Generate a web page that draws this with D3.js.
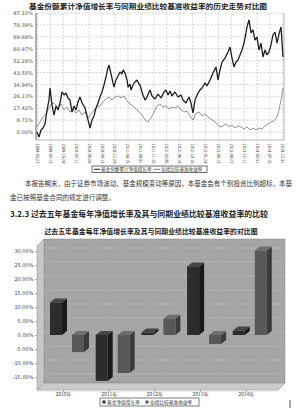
<!DOCTYPE html>
<html>
<head>
<meta charset="utf-8">
<script src="https://cdn.jsdelivr.net/npm/d3@7"></script>
<style>
body { margin: 0; background: #fff; }
svg { display: block; }
text { font-family: "Noto Sans CJK SC", "DejaVu Sans", sans-serif; }
</style>
</head>
<body>
<div id="canvas"></div>
<script>
// ---- data: line chart (weeks since start, cumulative %) ----
const navWeeks = [0,2,4,6,8,10,12,13,15,17,19,21,23,25,27,29,31,33,35,37,39,41,43,45,48,50,52,53,55,57,59,61,63,65,67,69,71,72,74,76,77,79,81,83,85,86,88,90,91,93,94,96,98,100,102,103,105,106,108,110,112,113,115,118,121,124,127,129,131,133,135,138,141,144,146,149,152,154,156,158,161,163,165,168,170,173,176,179,181,183,185,188,191,193,195,197,199,201,203,205,207,209,210,212,214,216,218,220,222,224,226,228,230,232,234,236,238,240,242,244,246];
const navValues = [0,-3.7,1.5,2.9,5.9,16.1,23.4,32.2,19.8,12.4,19.0,16.1,21.2,29.3,27.1,28.5,24.9,23.4,14.6,19.0,16.1,22.0,25.6,21.2,17.6,11.7,5.9,2.9,8.8,11.7,17.6,21.2,25.6,29.3,34.4,40.3,46.9,49.0,42.5,35.9,32.9,38.1,41.0,43.9,42.5,45.4,43.2,38.1,32.9,35.1,30.7,34.4,36.6,38.1,35.1,34.4,29.3,27.1,23.4,25.6,29.3,30.7,26.4,24.2,27.8,24.9,29.3,30.7,27.1,30.0,26.4,29.3,25.6,27.1,23.4,21.2,25.6,21.2,13.9,23.4,28.5,30.7,32.2,35.9,33.7,38.1,43.2,47.6,38.1,45.4,51.2,54.1,58.6,62.2,54.1,47.6,51.2,52.7,56.4,60.0,65.1,72.5,76.9,82.0,72.5,74.7,67.3,69.5,60.0,65.1,54.9,60.0,56.4,58.6,63.7,71.0,73.2,65.1,71.8,76.9,54.9];
const benchWeeks = [0,3,6,9,12,15,18,21,24,27,30,33,36,39,42,45,48,51,54,57,60,63,66,69,72,75,78,81,84,87,90,93,96,99,102,105,108,111,114,117,120,123,126,129,132,135,138,141,144,147,150,153,156,159,162,165,168,171,174,177,180,183,186,189,192,195,198,201,204,207,210,213,216,219,222,225,228,231,234,237,240,242,244,246];
const benchValues = [3.7,7.3,11.0,13.2,17.6,21.2,20.5,17.6,20.5,16.1,18.3,14.6,16.8,13.9,16.1,12.4,14.6,10.2,13.2,16.1,18.3,19.0,22.0,24.2,25.6,23.4,25.6,26.4,24.9,26.4,22.7,20.5,19.0,16.8,14.6,12.4,8.8,7.3,10.2,14.6,19.0,20.5,18.3,19.0,16.8,18.3,17.6,19.0,16.1,14.6,15.4,11.7,8.8,13.9,14.6,11.7,13.2,11.0,9.5,8.1,5.9,3.7,4.4,5.9,3.7,5.1,2.9,4.4,3.7,2.2,3.7,1.5,2.9,1.5,2.9,2.2,4.4,5.9,7.3,8.1,11.0,16.1,23.4,32.2];
const dateLabels = ["2009-03-27","2009-07-13","2009-10-28","2010-02-11","2010-05-28","2010-09-13","2010-12-29","2011-04-15","2011-08-01","2011-11-15","2012-03-05","2012-06-19","2012-10-10","2013-01-24","2013-05-13","2013-08-27","2013-12-11","2014-03-31","2014-07-15","2014-12-31"];
const lineTicks = [0, 8.71, 17.42, 26.13, 34.84, 43.55, 52.26, 60.97, 69.68, 78.39, 87.10];

// ---- data: bar chart (annual %) ----
const years = ["2010年", "2011年", "2012年", "2013年", "2014年"];
const fundGrowth = [11.6, -16.4, 0.9, 24.5, 1.6];
const benchReturn = [-6.1, -13.6, 5.8, -3.2, 30.2];
const barTicks = [-15, -10, -5, 0, 5, 10, 15, 20, 25, 30];

const svg = d3.select("#canvas").append("svg")
    .attr("width", 300)
    .attr("height", 410);

// ================= line chart =================
const x = d3.scaleLinear().domain([0, 246]).range([37, 283]);
const y = d3.scaleLinear().domain([0, 87.1]).range([132, 13]);
const xd = d3.scalePoint().domain(dateLabels).range([37.5, 283]);
const plotBottom = 140;

svg.append("text")
    .attr("x", 148).attr("y", 9)
    .attr("text-anchor", "middle")
    .attr("textLength", 238).attr("lengthAdjust", "spacingAndGlyphs")
    .style("font-size", "7.4px").style("font-weight", "bold").style("fill", "#222")
    .text("基金份额累计净值增长率与同期业绩比较基准收益率的历史走势对比图");

const g1 = svg.append("g");

// grid
g1.selectAll(".hg").data(lineTicks).enter().append("line")
    .attr("x1", 36).attr("x2", 284)
    .attr("y1", d => y(d)).attr("y2", d => y(d))
    .attr("stroke", "#b8b8b8").attr("stroke-width", 0.6).attr("stroke-dasharray", "2,1.5");
g1.selectAll(".vg").data(dateLabels).enter().append("line")
    .attr("x1", d => xd(d)).attr("x2", d => xd(d))
    .attr("y1", 13).attr("y2", plotBottom)
    .attr("stroke", "#b8b8b8").attr("stroke-width", 0.6).attr("stroke-dasharray", "2,1.5");
g1.append("line").attr("x1", 284).attr("x2", 284).attr("y1", 13).attr("y2", plotBottom)
    .attr("stroke", "#999").attr("stroke-width", 0.7);
g1.append("line").attr("x1", 36).attr("x2", 284).attr("y1", plotBottom).attr("y2", plotBottom)
    .attr("stroke", "#999").attr("stroke-width", 0.7);
g1.append("line").attr("x1", 36).attr("x2", 36).attr("y1", 13).attr("y2", plotBottom)
    .attr("stroke", "#555").attr("stroke-width", 0.9);

// y axis labels
g1.append("g")
    .attr("transform", "translate(35,0)")
    .call(d3.axisLeft(y).tickValues(lineTicks).tickSize(0).tickPadding(2)
        .tickFormat(d => d.toFixed(2) + "%"))
    .call(a => a.select(".domain").remove())
    .selectAll("text").style("font-size", "5.2px").style("fill", "#555")
    .style("font-family", "'DejaVu Sans', sans-serif");

// x labels, vertical and condensed
g1.selectAll(".xl").data(dateLabels).enter().append("text")
    .attr("transform", d => `translate(${xd(d) - 1.6},143.5) rotate(90)`)
    .attr("textLength", 20).attr("lengthAdjust", "spacingAndGlyphs")
    .style("font-size", "4.4px").style("fill", "#444")
    .style("font-family", "'DejaVu Sans', sans-serif")
    .text(d => d);

// lines
const line = d3.line().x(d => x(d[0])).y(d => y(d[1]));
g1.append("path")
    .attr("d", line(d3.zip(benchWeeks, benchValues)))
    .attr("fill", "none").attr("stroke", "#777").attr("stroke-width", 0.8);
g1.append("path")
    .attr("d", line(d3.zip(navWeeks, navValues)))
    .attr("fill", "none").attr("stroke", "#1e1e1e").attr("stroke-width", 1.3)
    .attr("stroke-linejoin", "bevel");

// legend
const lg1 = svg.append("g");
lg1.append("rect").attr("x", 92).attr("y", 166).attr("width", 115).attr("height", 6.5)
    .attr("fill", "#fff").attr("stroke", "#333").attr("stroke-width", 0.7);
lg1.append("line").attr("x1", 94).attr("x2", 100).attr("y1", 169.3).attr("y2", 169.3)
    .attr("stroke", "#1e1e1e").attr("stroke-width", 1);
lg1.append("text").attr("x", 101).attr("y", 171)
    .style("font-size", "4.6px").style("fill", "#333").text("基金份额累计净值增长率");
lg1.append("line").attr("x1", 154).attr("x2", 160).attr("y1", 169.3).attr("y2", 169.3)
    .attr("stroke", "#777").attr("stroke-width", 1);
lg1.append("text").attr("x", 161).attr("y", 171)
    .style("font-size", "4.6px").style("fill", "#333").text("业绩比较基准收益率");

// ================= text =================
svg.append("text").attr("x", 25).attr("y", 185.5)
    .attr("textLength", 267).attr("lengthAdjust", "spacingAndGlyphs")
    .style("font-size", "6.7px").style("fill", "#333")
    .text("本报告期末，由于证券市场波动、基金规模变动等原因，本基金会有个别投资比例超标，本基");
svg.append("text").attr("x", 10).attr("y", 199.5)
    .attr("textLength", 105).attr("lengthAdjust", "spacingAndGlyphs")
    .style("font-size", "6.7px").style("fill", "#333")
    .text("金已按照基金合同的规定进行调整。");
svg.append("text").attr("x", 10).attr("y", 216.5)
    .attr("textLength", 258).attr("lengthAdjust", "spacingAndGlyphs")
    .style("font-size", "7.6px").style("font-weight", "bold").style("fill", "#222")
    .text("3.2.3 过去五年基金每年净值增长率及其与同期业绩比较基准收益率的比较");

// ================= bar chart =================
svg.append("text")
    .attr("x", 151).attr("y", 233.5)
    .attr("text-anchor", "middle")
    .attr("textLength", 213).attr("lengthAdjust", "spacingAndGlyphs")
    .style("font-size", "6.8px").style("font-weight", "bold").style("fill", "#222")
    .text("过去五年基金每年净值增长率及其与同期业绩比较基准收益率的对比图");

const x0 = d3.scaleBand().domain(years).range([41, 269.5]);
const yB = d3.scaleLinear().domain([-15, 30]).range([377, 251]);
const depthX = 5, depthY = 4, barW = 12;

const g2 = svg.append("g");
// walls and floor
g2.append("rect").attr("x", 44).attr("y", 239).attr("width", 241).attr("height", 144)
    .attr("fill", "#a5a5a5").attr("stroke", "#8a8a8a").attr("stroke-width", 0.5);
g2.append("polygon").attr("points", "37,246 44,239 44,383 37,390")
    .attr("fill", "#c6c6c6").attr("stroke", "#8a8a8a").attr("stroke-width", 0.5);
g2.append("polygon").attr("points", "37,390 44,383 285,383 278,390")
    .attr("fill", "#cbcbcb").attr("stroke", "#8a8a8a").attr("stroke-width", 0.5);
g2.append("rect").attr("x", 37).attr("y", 390).attr("width", 241).attr("height", 1.6)
    .attr("fill", "#dedede");

// grid on back wall
g2.selectAll(".bg").data(barTicks).enter().append("line")
    .attr("x1", 44).attr("x2", 285)
    .attr("y1", d => yB(d) - 3).attr("y2", d => yB(d) - 3)
    .attr("stroke", "#c9c9c9").attr("stroke-width", 0.6).attr("stroke-dasharray", "2,1.5");

// y labels + ticks
g2.append("g")
    .attr("transform", "translate(37,0)")
    .call(d3.axisLeft(yB).tickValues(barTicks).tickSize(2).tickPadding(1.5)
        .tickFormat(d => d.toFixed(2) + "%"))
    .call(a => a.select(".domain").remove())
    .call(a => a.selectAll("line").attr("stroke", "#666").attr("stroke-width", 0.5))
    .selectAll("text").style("font-size", "5px").style("fill", "#444")
    .style("font-family", "'DejaVu Sans', sans-serif");

// x labels
g2.selectAll(".yl").data(years).enter().append("text")
    .attr("x", d => x0(d) + 22.5).attr("y", 396)
    .attr("text-anchor", "middle")
    .style("font-size", "5px").style("fill", "#444")
    .text(d => d);
g2.selectAll(".yt").data(years).enter().append("line")
    .attr("x1", d => x0(d) + 22.5).attr("x2", d => x0(d) + 22.5)
    .attr("y1", 390).attr("y2", 392)
    .attr("stroke", "#666").attr("stroke-width", 0.5);

// 3D bars
function drawBars(values, offset, front, side, top) {
    const bars = g2.selectAll(null).data(values.map((v, i) => ({ year: years[i], v: v })))
        .enter().append("g");
    const bx = d => x0(d.year) + offset;
    const t = d => yB(Math.max(0, d.v));
    const b = d => yB(Math.min(0, d.v));
    bars.append("polygon")
        .attr("points", d => [[bx(d) + barW, t(d)], [bx(d) + barW + depthX, t(d) - depthY],
            [bx(d) + barW + depthX, b(d) - depthY], [bx(d) + barW, b(d)]].join(" "))
        .attr("fill", side);
    bars.append("polygon")
        .attr("points", d => [[bx(d), t(d)], [bx(d) + depthX, t(d) - depthY],
            [bx(d) + barW + depthX, t(d) - depthY], [bx(d) + barW, t(d)]].join(" "))
        .attr("fill", top);
    bars.append("rect")
        .attr("x", bx).attr("y", t)
        .attr("width", barW).attr("height", d => Math.max(0.5, b(d) - t(d)))
        .attr("fill", front);
}
drawBars(fundGrowth, 9, "#2c2c2c", "#1a1a1a", "#454545");
drawBars(benchReturn, 31, "#585858", "#3b3b3b", "#6e6e6e");

// legend
const lg2 = svg.append("g");
lg2.append("rect").attr("x", 100).attr("y", 398).attr("width", 99).attr("height", 8)
    .attr("fill", "#fff").attr("stroke", "#444").attr("stroke-width", 0.7);
lg2.append("rect").attr("x", 102.5).attr("y", 400.5).attr("width", 3).attr("height", 3).attr("fill", "#2c2c2c");
lg2.append("text").attr("x", 107).attr("y", 403.8)
    .style("font-size", "4.7px").style("fill", "#333").text("基金净值增长率");
lg2.append("rect").attr("x", 145.5).attr("y", 400.5).attr("width", 3).attr("height", 3).attr("fill", "#585858");
lg2.append("text").attr("x", 150).attr("y", 403.8)
    .style("font-size", "4.7px").style("fill", "#333").text("业绩比较基准收益率");

// page mark at bottom right
svg.append("line").attr("x1", 290).attr("x2", 290).attr("y1", 400).attr("y2", 408)
    .attr("stroke", "#222").attr("stroke-width", 0.8);
</script>
</body>
</html>
